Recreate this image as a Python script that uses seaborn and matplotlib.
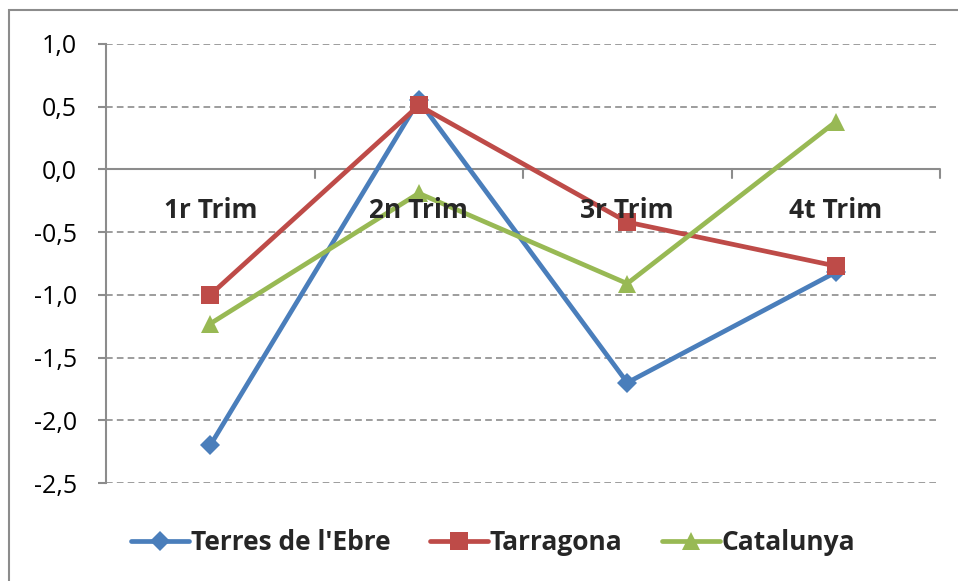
import matplotlib
matplotlib.use("Agg")
import matplotlib.pyplot as plt
import seaborn as sns
import pandas as pd
from matplotlib.patches import Rectangle

# data
quarters = ["1r Trim", "2n Trim", "3r Trim", "4t Trim"]
terres_ebre = [-2.2, 0.55, -1.7, -0.82]
tarragona = [-1.0, 0.51, -0.42, -0.77]
catalunya = [-1.23, -0.19, -0.91, 0.38]
yticks = [1.0, 0.5, 0.0, -0.5, -1.0, -1.5, -2.0, -2.5]

series = {"Terres de l'Ebre": terres_ebre, "Tarragona": tarragona, "Catalunya": catalunya}
rows = []
for name, vals in series.items():
    for i, (q, v) in enumerate(zip(quarters, vals)):
        rows.append({"pos": i, "quarter": q, "value": v, "serie": name})
df = pd.DataFrame(rows)

sns.set_theme(style="white")
plt.rcParams["font.family"] = ["Open Sans", "DejaVu Sans"]

colors = {"Terres de l'Ebre": "#4a7ebb", "Tarragona": "#be4b48", "Catalunya": "#98b954"}
markers = {"Terres de l'Ebre": "D", "Tarragona": "s", "Catalunya": "^"}
msize = {"Terres de l'Ebre": 10, "Tarragona": 13, "Catalunya": 13}

fig = plt.figure(figsize=(9.58, 5.81), dpi=100)
ax = fig.add_axes([106 / 958, 1 - 483 / 581, (940 - 106) / 958, (483 - 44) / 581])

for name in series:
    sub = df[df["serie"] == name]
    sns.lineplot(data=sub, x="pos", y="value", ax=ax, color=colors[name],
                 marker=markers[name], markersize=msize[name], markeredgewidth=0,
                 linewidth=3.4, label=name, zorder=3)

ax.set_xlim(-0.5, len(quarters) - 0.5)
ax.set_ylim(min(yticks), max(yticks))
ax.set_yticks(yticks)
ax.set_yticklabels([f"{t:.1f}".replace(".", ",") for t in yticks], fontsize=18)
ax.set_xticks([])
ax.set_xlabel("")
ax.set_ylabel("")

for t in yticks:
    if t != 0:
        ax.axhline(t, color="#8c8c8c", linestyle=(0, (4, 2.5)), linewidth=1.2, zorder=1)
ax.axhline(0, color="#8c8c8c", linewidth=1.5, zorder=2)
for b in [i + 0.5 for i in range(len(quarters))]:
    ax.plot([b, b], [0, -0.065], color="#8c8c8c", linewidth=1.5, zorder=2, clip_on=False)

for i, q in enumerate(quarters):
    ax.text(i, -0.33, q, ha="center", va="center", fontsize=19, fontweight="bold", zorder=4)

for s in ["top", "right", "bottom"]:
    ax.spines[s].set_visible(False)
ax.spines["left"].set_color("#8c8c8c")
ax.spines["left"].set_linewidth(1.5)
ax.tick_params(axis="y", left=True, length=6, width=1.5, color="#8c8c8c", pad=15, labelcolor="black")

ax.get_legend().remove()
fig.legend(*ax.get_legend_handles_labels(), loc="center", bbox_to_anchor=(493 / 958, 1 - 543 / 581),
           ncol=3, frameon=False, handlelength=2.2, columnspacing=1.5, handletextpad=0.05,
           prop={"size": 19, "weight": "bold"})

fig.patches.append(Rectangle((9 / 958, -0.05), 1.1, 1 - 10 / 581 + 0.05, transform=fig.transFigure,
                             fill=False, edgecolor="#8c8c8c", linewidth=1.5))

fig.savefig("out.png", dpi=100)
